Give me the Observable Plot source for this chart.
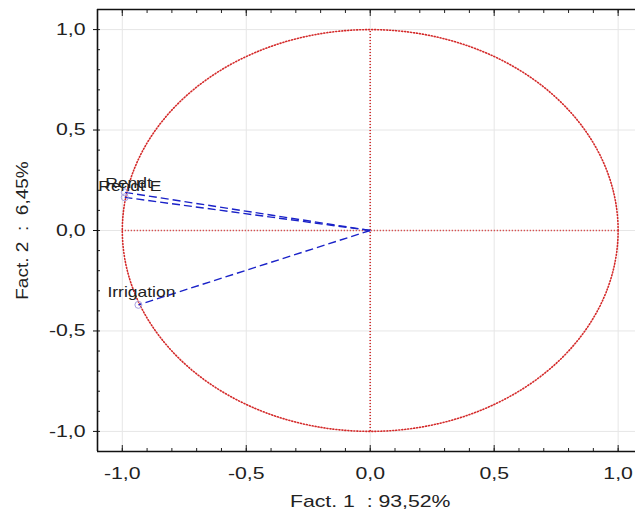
<!DOCTYPE html>
<html><head><meta charset="utf-8">
<script src="https://cdn.jsdelivr.net/npm/d3@7"></script>
<script src="https://cdn.jsdelivr.net/npm/@observablehq/plot@0.6"></script>
<style>html,body{margin:0;padding:0;background:#fff;overflow:hidden}</style>
</head><body><div id="chart"></div>
<script>
const variables = ["Rendt", "Rendt E", "Irrigation"];
const fact1 = [-0.99, -0.99, -0.935];
const fact2 = [0.19, 0.165, -0.37];
const labelDx = [-19.5, -26.5, -31];
const labelDy = [-9, -11, -12];
const majorTicks = [-1, -0.5, 0, 0.5, 1];
const xLabel = "Fact. 1  : 93,52%";
const yLabel = "Fact. 2  :  6,45%";

const loadings = variables.map((v, i) => ({name: v, x: fact1[i], y: fact2[i]}));
const minor = d3.range(-11, 11).map(i => i / 10);
const circle = d3.range(0, 361, 2).map(a => ({x: Math.cos(a * Math.PI / 180), y: Math.sin(a * Math.PI / 180)}));
const fmt = d => d.toFixed(1).replace(".", ",").replace("-0,0", "0,0");
const none = () => "";
const red = "#d42a2a";
const blue = "#1a22c8";

const plot = Plot.plot({
  width: 635, height: 515,
  marginLeft: 97, marginRight: 0, marginTop: 9, marginBottom: 64,
  x: {domain: [-1.1, 1.07]},
  y: {domain: [-1.1, 1.1]},
  style: {fontFamily: "Liberation Sans, Arial, sans-serif", fontSize: "17px", color: "#111"},
  marks: [
    Plot.ruleX(majorTicks, {stroke: "#e6e6e6", strokeWidth: 1}),
    Plot.ruleY(majorTicks, {stroke: "#e6e6e6", strokeWidth: 1}),
    Plot.line(circle, {x: "x", y: "y", stroke: red, strokeWidth: 1.6, strokeDasharray: "1,2"}),
    Plot.ruleX([0], {y1: -1, y2: 1, stroke: red, strokeWidth: 1.6, strokeDasharray: "1,2"}),
    Plot.ruleY([0], {x1: -1, x2: 1, stroke: red, strokeWidth: 1.6, strokeDasharray: "1,2"}),
    Plot.link(loadings, {x1: 0, y1: 0, x2: "x", y2: "y", stroke: blue, strokeWidth: 1.4, strokeDasharray: "8,4"}),
    Plot.dot(loadings, {x: "x", y: "y", r: 3.5, stroke: "#a8a0e0", strokeWidth: 1, fill: "none"}),
    ...loadings.map((d, i) => Plot.text([d], {x: "x", y: "y", text: "name", dx: labelDx[i], dy: labelDy[i], textAnchor: "start", fontSize: 14, fill: "#222"})),
    Plot.axisX(minor, {anchor: "bottom", tickSize: -3, tickFormat: none, label: null, stroke: "#222"}),
    Plot.axisX(minor, {anchor: "top", tickSize: -3, tickFormat: none, label: null, stroke: "#222"}),
    Plot.axisX(majorTicks, {anchor: "bottom", tickSize: -6, tickFormat: none, label: null, stroke: "#222"}),
    Plot.axisX(majorTicks, {anchor: "top", tickSize: -6, tickFormat: none, label: null, stroke: "#222"}),
    Plot.axisX(majorTicks, {anchor: "bottom", tickSize: 0, tickPadding: 15, tickFormat: fmt, label: null, fontSize: 17, fill: "#222"}),
    Plot.axisY(minor, {anchor: "left", tickSize: -3, tickFormat: none, label: null, stroke: "#222"}),
    Plot.axisY(majorTicks, {anchor: "left", tickSize: 4, tickPadding: 8, tickFormat: fmt, label: null, fontSize: 17, fill: "#222"}),
    Plot.text([xLabel], {frameAnchor: "bottom", x: 0, dy: 55, text: d => d, fontSize: 17, fill: "#222"}),
    Plot.text([yLabel], {frameAnchor: "left", textAnchor: "middle", dx: -75, rotate: -90, text: d => d, fontSize: 17, fill: "#222"}),
    Plot.ruleX([-1.1], {stroke: "#111", strokeWidth: 1.6}),
    Plot.ruleY([-1.1, 1.1], {stroke: "#111", strokeWidth: 1.6})
  ]
});
// the reference's lettering is drawn horizontally widened
plot.querySelectorAll("text").forEach(t => {
  const tr = t.getAttribute("transform") || "";
  const s = tr.includes("rotate") ? 1.12 : 1.25;
  t.setAttribute("transform", (tr + ` scale(${s},1)`).trim());
});
document.getElementById("chart").appendChild(plot);
</script></body></html>
